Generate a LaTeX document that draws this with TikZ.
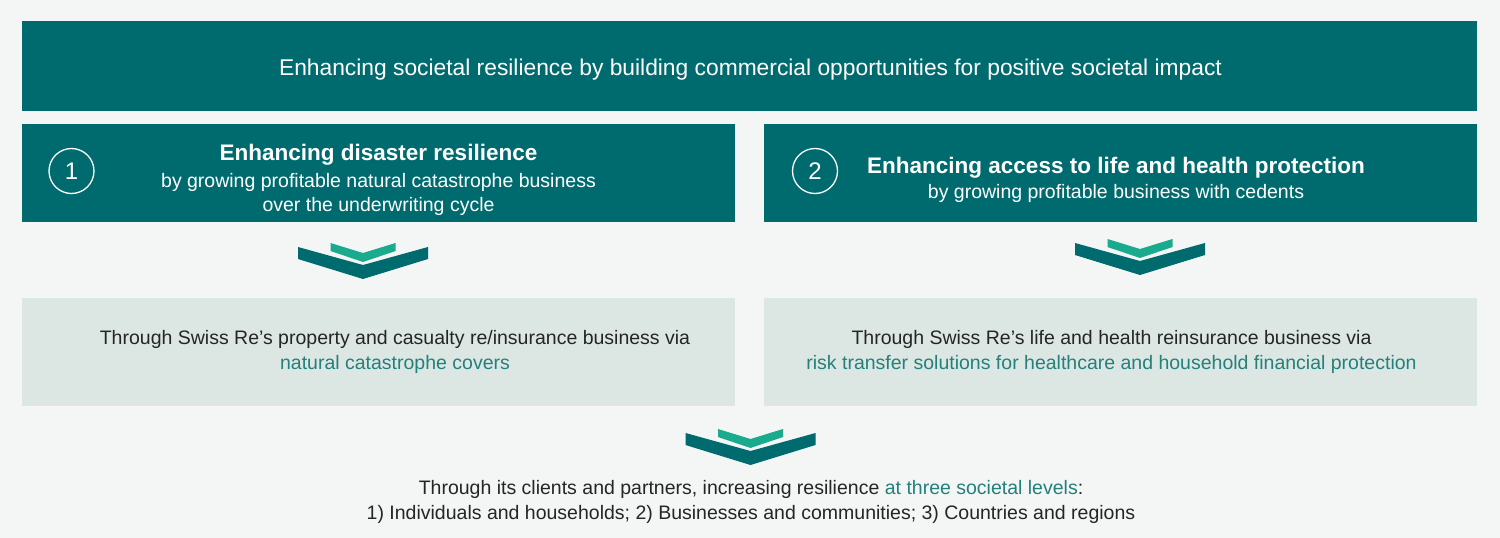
\documentclass[tikz,border=0pt]{standalone}
\usepackage{fontspec}
\setmainfont{Liberation Sans}
\usetikzlibrary{positioning}
\definecolor{srteal}{HTML}{006B6E}
\definecolor{srgreen}{HTML}{1AAA8D}
\definecolor{srpale}{HTML}{DCE7E4}
\definecolor{srback}{HTML}{F4F5F5}
\definecolor{srtext}{HTML}{252525}
\definecolor{srlink}{HTML}{23807A}
\tikzset{
  darkbox/.style={fill=srteal, text=white, inner sep=0pt},
  palebox/.style={fill=srpale, minimum width=713pt, minimum height=108pt, inner sep=0pt},
  numcircle/.style={circle, draw=white, line width=1.3pt, minimum size=45pt, inner sep=0pt,
    text=white, font=\fontsize{24}{28}\selectfont},
  headline/.style={text=white, inner sep=0pt, font=\bfseries\fontsize{22.5}{27}\selectfont},
  subline/.style={text=white, inner sep=0pt, align=center, font=\fontsize{19.5}{24}\selectfont},
  bodytext/.style={text=srtext, inner sep=0pt, align=center, font=\fontsize{19.5}{25}\selectfont},
  srchevron/.pic={
    \fill[srteal] (-65,0) -- (0,18) -- (65,0) -- (65,12) -- (0,32) -- (-65,12) -- cycle;
    \fill[srgreen] (-32.5,-4) -- (0,6) -- (32.5,-4) -- (32.5,4) -- (0,15) -- (-32.5,4) -- cycle;
  }
}

\begin{document}
\begin{tikzpicture}[x=1pt,y=-1pt]
  \useasboundingbox[fill=srback] (0,0) rectangle (1500,538);
  % top banner
  \node[darkbox, minimum width=1455pt, minimum height=90pt] (banner) at (749.5,66) {};
  \node[text=white, inner sep=0pt, font=\fontsize{22.8}{27}\selectfont] (bannertext) at (750.5,70)
    {Enhancing societal resilience by building commercial opportunities for positive societal impact};
  % the two goals
  \node[darkbox, minimum width=713pt, minimum height=98pt] (goalA) at (378.5,173) {};
  \node[darkbox, minimum width=713pt, minimum height=98pt] (goalB) at (1120.5,173) {};
  \node[numcircle] (numA) at (71.5,171) {1};
  \node[numcircle] (numB) at (815,171) {2};
  \node[headline] (goalAhead) at (378.5,155) {Enhancing disaster resilience};
  \node[subline] (goalAsub) at (378.5,194) {by growing profitable natural catastrophe business\\over the underwriting cycle};
  \node[headline] (goalBhead) at (1116,167.5) {Enhancing access to life and health protection};
  \node[subline] (goalBsub) at (1116,193.5) {by growing profitable business with cedents};
  \pic at (363,247) {srchevron};
  \pic at (1140,243) {srchevron};
  % the two ways
  \node[palebox] (viaA) at (378.5,352) {};
  \node[palebox] (viaB) at (1120.5,352) {};
  \node[bodytext] (viaAtext) at (395,351.5)
    {Through Swiss Re’s property and casualty re/insurance business via\\\textcolor{srlink}{natural catastrophe covers}};
  \node[bodytext] (viaBtext) at (1111.5,351.5)
    {Through Swiss Re’s life and health reinsurance business via\\\textcolor{srlink}{risk transfer solutions for healthcare and household financial protection}};
  \pic at (750.5,433) {srchevron};
  % levels
  \node[bodytext] (levels) at (751,502)
    {Through its clients and partners, increasing resilience \textcolor{srlink}{at three societal levels}:\\1) Individuals and households; 2) Businesses and communities; 3) Countries and regions};
\end{tikzpicture}
\end{document}
